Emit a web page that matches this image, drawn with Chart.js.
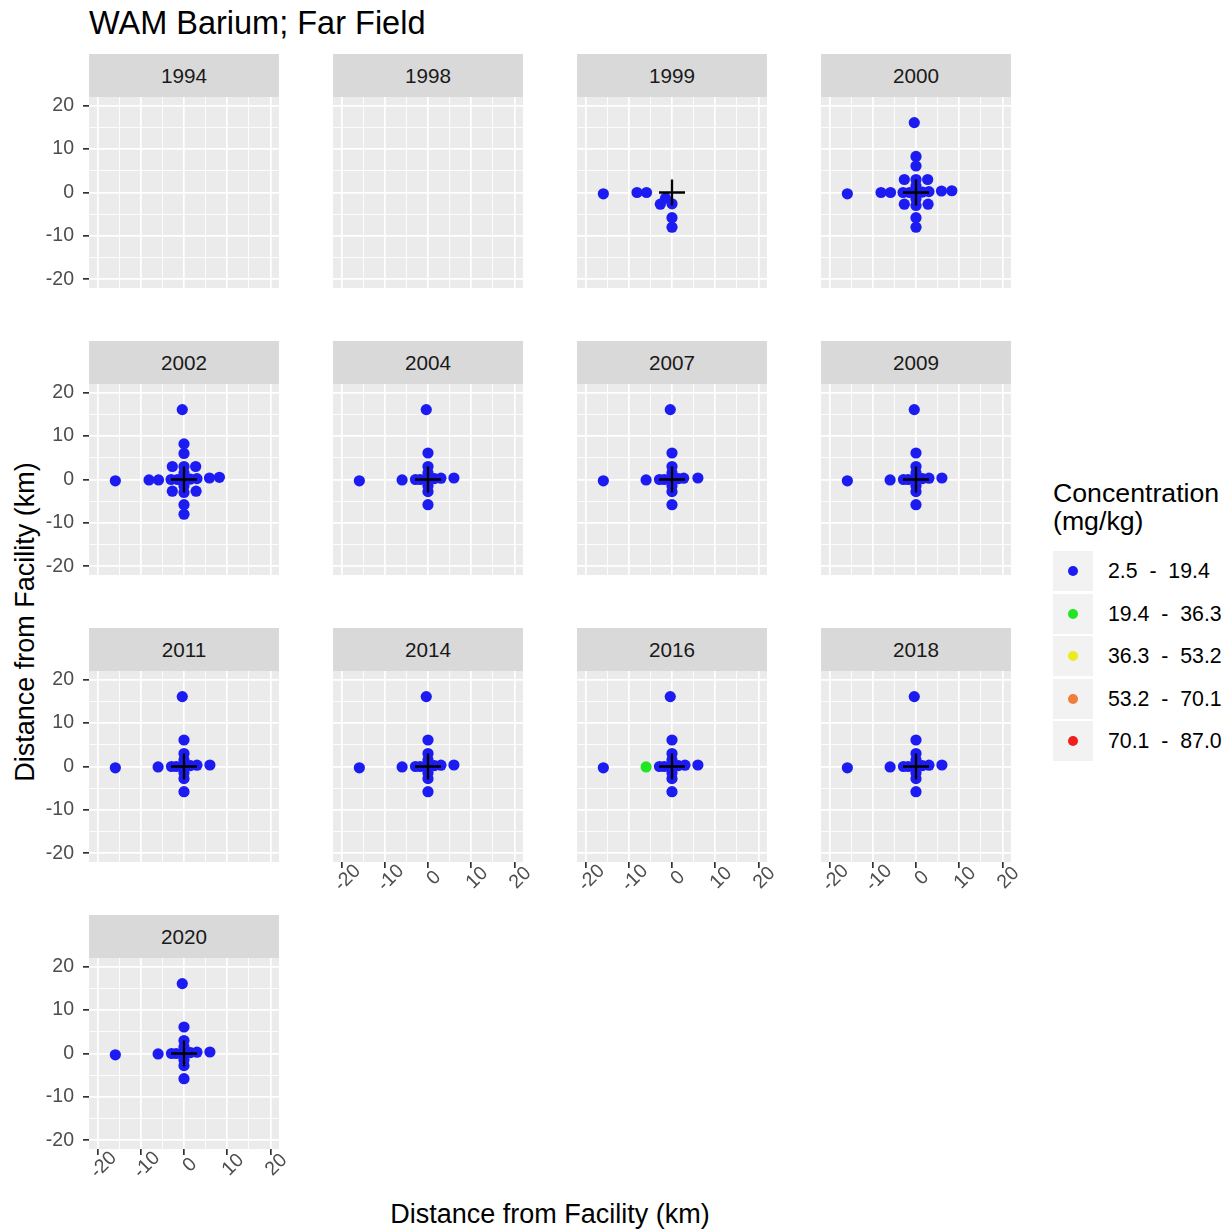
<!DOCTYPE html>
<html>
<head>
<meta charset="utf-8">
<script src="https://cdn.jsdelivr.net/npm/chart.js@4.4.1/dist/chart.umd.min.js"></script>
<style>
  body{margin:0;background:#fff;font-family:"Liberation Sans",Arial,sans-serif;}
  #page{position:relative;width:1230px;height:1230px;overflow:hidden;background:#fff;}
  .strip{position:absolute;width:190px;height:43px;background:#d9d9d9;color:#1a1a1a;font-size:20.7px;line-height:43px;text-align:center;}
  .panel{position:absolute;}
  #title{position:absolute;left:89px;top:7px;font-size:32.5px;line-height:32.5px;color:#000;white-space:nowrap;}
  #xtitle{position:absolute;left:0;width:1100px;top:1199px;font-size:27px;line-height:30px;text-align:center;color:#000;}
  #ytitle{position:absolute;left:-175px;top:607px;width:400px;height:30px;font-size:27px;line-height:30px;text-align:center;color:#000;transform:rotate(-90deg);}
  #legtitle{position:absolute;left:1053px;top:479px;font-size:26.7px;line-height:28px;color:#000;white-space:nowrap;}
  .key{position:absolute;left:1053px;width:40px;height:40px;background:#f2f2f2;}
  .key span{position:absolute;left:15px;top:15px;width:10px;height:10px;border-radius:50%;}
  .klab{position:absolute;left:1108px;height:40px;line-height:40px;font-size:21.3px;color:#000;white-space:pre;}
</style>
</head>
<body>
<div id="page">
  <div id="title">WAM Barium; Far Field</div>
  <div id="xtitle">Distance from Facility (km)</div>
  <div id="ytitle">Distance from Facility (km)</div>
  <div id="legtitle">Concentration<br>(mg/kg)</div>
</div>
<script>
// panels in facet order
const years=['1994','1998','1999','2000','2002','2004','2007','2009','2011','2014','2016','2018','2020'];
// panels that carry the x tick labels
const xLabelYears=['2014','2016','2018','2020'];
const majorTicks=[-20,-10,0,10,20];
const xTickLabels=[-20,-10,0,10,20];
const facility=[[0,0]];

// concentration bins
const binLabels=['2.5  -  19.4','19.4  -  36.3','36.3  -  53.2','53.2  -  70.1','70.1  -  87.0'];
const binColors=['#1c1cf2','#22e622','#ebeb1e','#f07d3c','#f01e1e'];

// stations: [x km, y km, bin]
const pts1994=[];
const pts1998=[];
const pts1999=[[-15.9,-0.3,0],[-8.1,0,0],[-5.9,0,0],[-2.7,-2.7,0],[-1.5,-1.3,0],[0,-2.6,0],[0,-5.8,0],[0,-8,0]];
const pts2000=[[-0.4,16.1,0],[0,8.3,0],[0,6.1,0],[0,3,0],[0,1.5,0],[0,0,0],[0,-1.5,0],[0,-3,0],[0,-5.8,0],[0,-8,0],
  [-15.9,-0.3,0],[-8.1,0,0],[-5.9,0,0],[-3,0,0],[-1.5,0,0],[1.5,0.1,0],[3,0.2,0],[5.9,0.35,0],[8.3,0.4,0],
  [-2.7,3,0],[2.7,3,0],[-2.7,-2.7,0],[2.8,-2.7,0]];
const pts2002=[[-0.4,16.1,0],[0,8.2,0],[0,6,0],[0,3,0],[0,1.5,0],[0,0,0],[0,-1.5,0],[0,-3,0],[0,-5.8,0],[0,-8,0],
  [-15.9,-0.3,0],[-8.1,-0.1,0],[-5.9,-0.1,0],[-3,0,0],[-1.5,0,0],[1.5,0.1,0],[3,0.2,0],[5.9,0.35,0],[8.2,0.5,0],
  [-2.7,3,0],[2.7,3,0],[-2.7,-2.7,0],[2.8,-2.7,0]];
const pts2004=[[-0.4,16.1,0],[0,6.1,0],[0,3,0],[0,1.5,0],[0,0,0],[0,-1.5,0],[0,-2.8,0],[0,-5.8,0],
  [-15.9,-0.3,0],[-6,-0.1,0],[-2.9,0,0],[-1.8,0,0],[1.5,0.2,0],[3,0.3,0],[6,0.35,0]];
const pts2007=[[-0.4,16.1,0],[0,6.1,0],[0,3,0],[0,1.5,0],[0,0,0],[0,-1.5,0],[0,-2.8,0],[0,-5.8,0],
  [-15.9,-0.3,0],[-6,-0.1,0],[-2.9,0,0],[-1.8,0,0],[1.5,0.2,0],[2.7,0.3,0],[6,0.35,0]];
const pts2009=[[-0.4,16.1,0],[0,6.1,0],[0,3,0],[0,1.5,0],[0,0,0],[0,-1.5,0],[0,-2.8,0],[0,-5.8,0],
  [-15.9,-0.3,0],[-6,-0.1,0],[-2.9,0,0],[-1.8,0,0],[1.5,0.2,0],[3,0.3,0],[6,0.35,0]];
const pts2011=[[-0.4,16.1,0],[0,6.1,0],[0,3,0],[0,1.5,0],[0,0,0],[0,-1.5,0],[0,-2.8,0],[0,-5.8,0],
  [-15.9,-0.3,0],[-6,-0.1,0],[-2.9,0,0],[-1.8,0,0],[1.5,0.2,0],[3,0.3,0],[6,0.35,0]];
const pts2014=[[-0.4,16.1,0],[0,6.1,0],[0,3,0],[0,1.5,0],[0,0,0],[0,-1.5,0],[0,-2.8,0],[0,-5.8,0],
  [-15.9,-0.3,0],[-6,-0.1,0],[-2.9,0,0],[-1.8,0,0],[1.5,0.2,0],[3,0.3,0],[6,0.35,0]];
const pts2016=[[-0.4,16.1,0],[0,6.1,0],[0,3,0],[0,1.5,0],[0,0,0],[0,-1.5,0],[0,-2.8,0],[0,-5.8,0],
  [-15.9,-0.3,0],[-6,-0.1,1],[-2.9,0,0],[-1.8,0,0],[1.5,0.2,0],[3,0.3,0],[6,0.35,0]];
const pts2018=[[-0.4,16.1,0],[0,6.1,0],[0,3,0],[0,1.5,0],[0,0,0],[0,-1.5,0],[0,-2.8,0],[0,-5.8,0],
  [-15.9,-0.3,0],[-6,-0.1,0],[-2.9,0,0],[-1.8,0,0],[1.5,0.2,0],[3,0.3,0],[6,0.35,0]];
const pts2020=[[-0.4,16.1,0],[0,6.1,0],[0,3,0],[0,1.5,0],[0,0,0],[0,-1.5,0],[0,-2.8,0],[0,-5.8,0],
  [-15.9,-0.3,0],[-6,-0.1,0],[-2.9,0,0],[-1.8,0,0],[1.5,0.2,0],[3,0.3,0],[6,0.35,0]];
const stations=[pts1994,pts1998,pts1999,pts2000,pts2002,pts2004,pts2007,pts2009,pts2011,pts2014,pts2016,pts2018,pts2020];

// layout
const colX=[89,333,577,821];
const stripTop=[54,341,628,915];
const STRIP_H=43, PLOT_W=190, PLOT_H=191, AXIS_W=70, AXIS_H=45, PAD_T=15, PAD_R=22;
const FONT='"Liberation Sans", Arial, sans-serif';

Chart.defaults.font.family=FONT;

const isMajor=v=>majorTicks.includes(v);

const panelBg={id:'panelBg',beforeDraw(c){
  const a=c.chartArea,ctx=c.ctx;
  ctx.save();ctx.fillStyle='#ebebeb';ctx.fillRect(a.left,a.top,a.right-a.left,a.bottom-a.top);ctx.restore();
}};

const xLabels={id:'xLabels',afterDraw(c,args,opts){
  if(!opts.show)return;
  const s=c.scales.x,ctx=c.ctx,y=c.chartArea.bottom+16;
  ctx.save();
  ctx.font='19.5px '+FONT;ctx.fillStyle='#4d4d4d';ctx.textAlign='center';ctx.textBaseline='middle';
  xTickLabels.forEach(v=>{
    ctx.save();ctx.translate(s.getPixelForValue(v)+6,y);ctx.rotate(-Math.PI/4);ctx.fillText(String(v),0,0);ctx.restore();
  });
  ctx.restore();
}};

const page=document.getElementById('page');

years.forEach((year,i)=>{
  const col=i%4,row=Math.floor(i/4);
  const showY=col===0, showX=xLabelYears.includes(year);
  const pts=stations[i];

  const strip=document.createElement('div');
  strip.className='strip';strip.textContent=year;
  strip.style.left=colX[col]+'px';strip.style.top=stripTop[row]+'px';
  page.appendChild(strip);

  const cv=document.createElement('canvas');
  cv.className='panel';
  cv.width=AXIS_W+PLOT_W+PAD_R;cv.height=PAD_T+PLOT_H+AXIS_H;
  cv.style.left=(colX[col]-AXIS_W)+'px';cv.style.top=(stripTop[row]+STRIP_H-PAD_T)+'px';
  page.appendChild(cv);

  const datasets=[{
    data:pts.map(p=>({x:p[0],y:p[1]})),
    backgroundColor:pts.map(p=>binColors[p[2]]),
    pointRadius:5.6,borderWidth:0,order:1
  }];
  if(pts.length){
    datasets.push({data:facility.map(p=>({x:p[0],y:p[1]})),pointStyle:'cross',pointRadius:13,
      borderColor:'#000',backgroundColor:'#000',borderWidth:2.3,order:0});
  }

  const grid=show=>({color:'#ffffff',lineWidth:c=>isMajor(c.tick.value)?1.7:0.85,
    tickLength:6,tickWidth:1.7,tickColor:c=>show&&isMajor(c.tick.value)?'#333333':'rgba(0,0,0,0)'});

  new Chart(cv,{
    type:'scatter',
    data:{datasets},
    options:{
      responsive:false,animation:false,events:[],
      layout:{autoPadding:false,padding:{left:0,right:PAD_R,top:PAD_T,bottom:0}},
      plugins:{legend:{display:false},tooltip:{enabled:false},xLabels:{show:showX}},
      scales:{
        x:{type:'linear',min:-22,max:22,border:{display:false},grid:grid(showX),
          ticks:{stepSize:5,includeBounds:false,autoSkip:false,display:false},
          afterFit(s){s.height=AXIS_H;s.paddingLeft=0;s.paddingRight=0;}},
        y:{type:'linear',min:-22,max:22,border:{display:false},grid:grid(showY),
          ticks:{stepSize:5,includeBounds:false,autoSkip:false,display:showY,padding:9,
            color:'#4d4d4d',font:{size:19.5},callback:v=>isMajor(v)?String(v):''},
          afterFit(s){s.width=AXIS_W;s.paddingTop=0;s.paddingBottom=0;}}
      }
    },
    plugins:[panelBg,xLabels]
  });
});

// legend keys
binLabels.forEach((lab,k)=>{
  const top=551+k*42.5;
  const key=document.createElement('div');
  key.className='key';key.style.top=top+'px';
  const dot=document.createElement('span');dot.style.background=binColors[k];
  key.appendChild(dot);page.appendChild(key);
  const t=document.createElement('div');
  t.className='klab';t.style.top=top+'px';t.textContent=lab;
  page.appendChild(t);
});
</script>
</body>
</html>
